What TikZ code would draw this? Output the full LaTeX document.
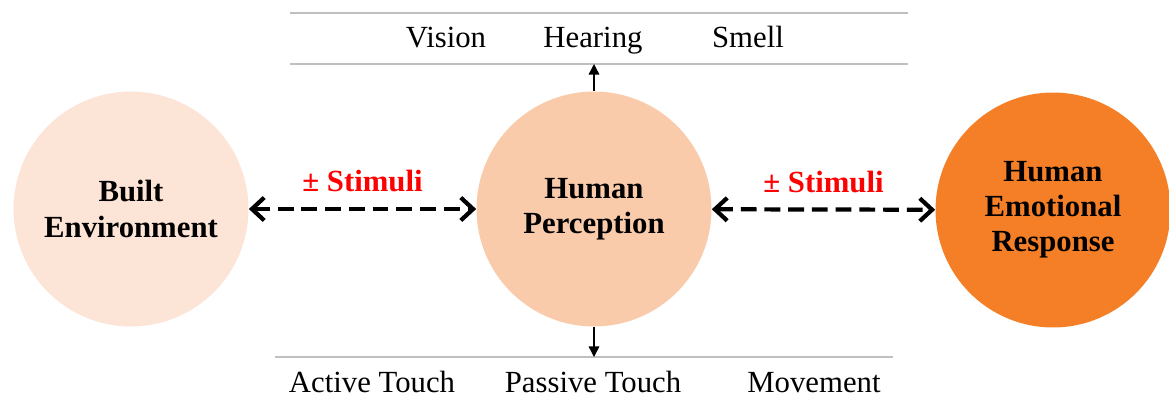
\documentclass[tikz,border=0pt]{standalone}
\usepackage{fontspec}
\setmainfont{Liberation Serif}
\usetikzlibrary{arrows.meta}
\definecolor{builtfill}{HTML}{FCE4D6}
\definecolor{percfill}{HTML}{F9CBAB}
\definecolor{respfill}{HTML}{F57F27}
\definecolor{rulegray}{HTML}{BFBFBF}
\tikzset{
  stage/.style={circle, minimum size=4.7cm, inner sep=0pt, align=center,
    font=\fontsize{17.5}{20}\selectfont\bfseries},
  senseline/.style={line width=0.6pt, color=rulegray},
  sense/.style={anchor=base, font=\fontsize{17.5}{20}\selectfont},
  stim/.style={line width=2.4pt, dash pattern=on 9pt off 4.5pt,
    {Straight Barb[length=7pt, width=13pt]}-{Straight Barb[length=7pt, width=13pt]}},
  stimlabel/.style={font=\fontsize{17.5}{20}\selectfont\bfseries, text=red}
}

\begin{document}
\begin{tikzpicture}[x=0.02cm, y=-0.02cm]
			%%%%% START %%%%%
			\useasboundingbox (0,0) rectangle (1169,403);
			
			\node[stage, fill=builtfill] (built) at (131, 209) {Built\\Environment};
			\node[stage, fill=percfill] (perc) at (594, 209) {Human\\Perception};
			\node[stage, fill=respfill] (resp) at (1053, 210) {Human\\Emotional\\Response};
			
			\draw[stim] (built) -- node[stimlabel, above=0.18cm] (stimA) {± Stimuli} (perc);
			\draw[stim] (perc) -- node[stimlabel, above=0.18cm] (stimB) {± Stimuli} (resp);
			
			%%%%% top senses %%%%%
			\coordinate (topL1) at (290, 13);
			\coordinate (topR1) at (908, 13);
			\coordinate (topL2) at (290, 64);
			\coordinate (topR2) at (908, 64);
			\coordinate (topHit) at (594, 64);
			\draw[senseline] (topL1) -- (topR1);
			\draw[senseline] (topL2) -- (topR2);
			\node[sense] (vision) at (446, 47) {Vision};
			\node[sense] (hearing) at (593, 47) {Hearing};
			\node[sense] (smell) at (748, 47) {Smell};
			\draw[line width=0.8pt, -{Triangle[length=6pt, width=6pt]}] (perc.north) -- (topHit);
			
			%%%%% bottom senses %%%%%
			\coordinate (botL) at (275, 357);
			\coordinate (botR) at (893, 357);
			\coordinate (botHit) at (594, 357);
			\draw[senseline] (botL) -- (botR);
			\node[sense] (active) at (372, 392) {Active Touch};
			\node[sense] (passive) at (593, 392) {Passive Touch};
			\node[sense] (move) at (814, 392) {Movement};
			\draw[line width=0.8pt, -{Triangle[length=6pt, width=6pt]}] (perc.south) -- (botHit);
			
			%%%%% END %%%%%
		\end{tikzpicture}
\end{document}
